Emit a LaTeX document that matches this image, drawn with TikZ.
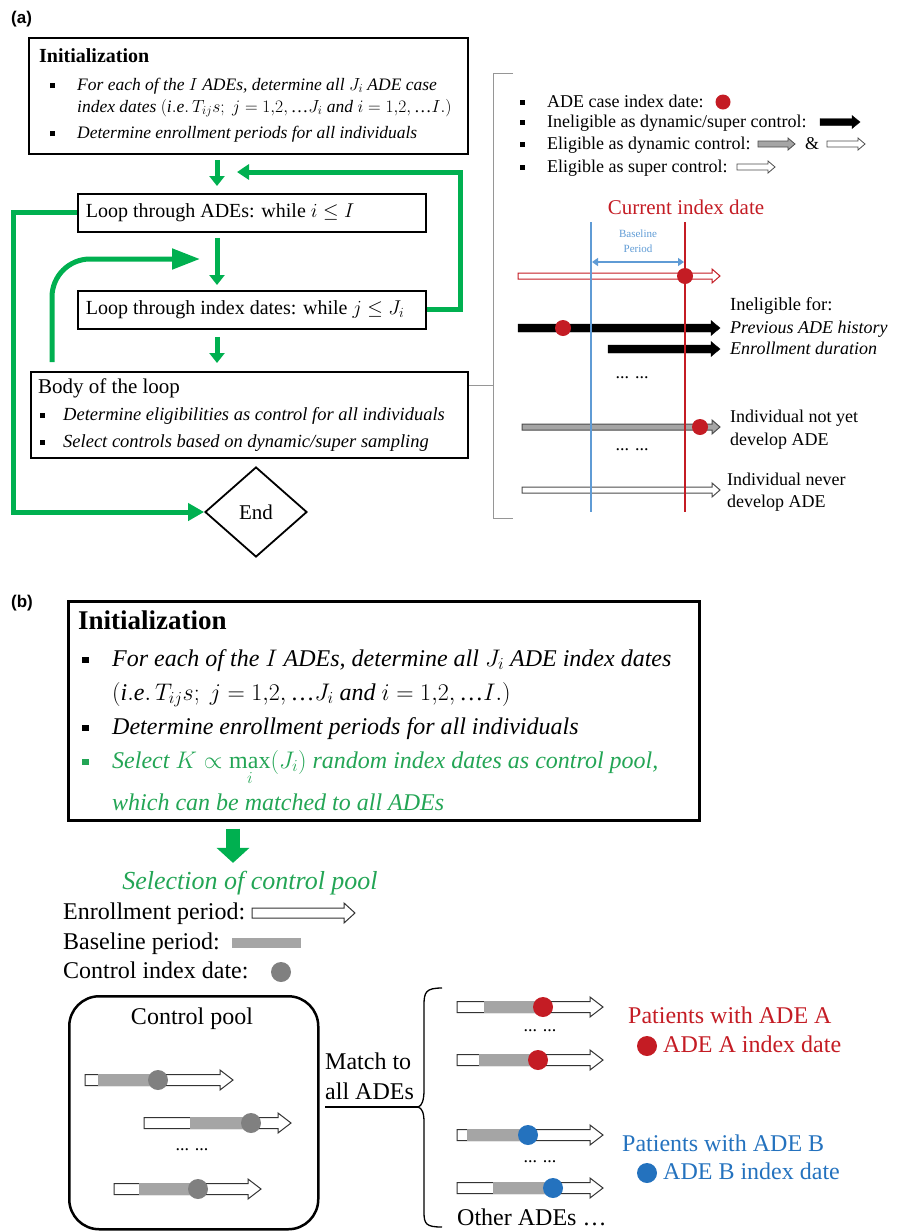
\RequirePackage{fix-cm}
\documentclass[tikz,border=0pt]{standalone}
\usepackage{amsmath,amssymb}
\usepackage{fontspec}
\setmainfont{Liberation Serif}
\newfontfamily\panelfont{Liberation Sans}
\usepackage{tikz}
\usetikzlibrary{shapes.geometric, arrows.meta, positioning, calc}
\definecolor{loopgreen}{RGB}{0,176,80}
\definecolor{poolgreen}{RGB}{35,165,85}
\definecolor{adered}{RGB}{196,28,36}
\definecolor{adeblue}{RGB}{36,114,190}
\definecolor{baseblue}{RGB}{95,155,213}
\definecolor{bargray}{RGB}{165,165,165}
\definecolor{dotgray}{RGB}{128,128,128}
\definecolor{bracketgray}{RGB}{150,150,150}

% square bullet
\newcommand{\sqb}[1]{\makebox[#1][l]{\rule[0.12em]{0.28em}{0.28em}}}
% tight ellipsis
\newcommand{\tdots}{\text{\upshape\ldots}}
% block arrow: [style]{x start}{x end}{y}{half shaft}{half head}{head length}
\newcommand{\blockarrow}[7][]{%
  \draw[#1] (#2,#4-#5) -- (#3-#7,#4-#5) -- (#3-#7,#4-#6) -- (#3,#4)
    -- (#3-#7,#4+#6) -- (#3-#7,#4+#5) -- (#2,#4+#5) -- cycle;}
% enrollment + baseline + index date
\newcommand{\poolrow}[6]{%
  \blockarrow[fill=white, draw=black!80, line width=1pt]{#1}{#2}{#3}{5.5}{10}{13}
  \fill[bargray] (#4,#3-6) rectangle (#5,#3+6);
  \fill[#6] (#5,#3) circle (10pt);}

\begin{document}
\begin{tikzpicture}[x=1pt, y=-1pt,
    flowbox/.style={draw, line width=1.8pt, inner sep=0pt, anchor=north west},
    loopbox/.style={flowbox, inner xsep=8pt, minimum height=38pt, font=\fontsize{20}{24}\selectfont},
    flowtxt/.style={anchor=mid west, inner sep=0pt, yshift=-3pt, font=\fontsize{18.5}{22}\selectfont\itshape},
    inittxt/.style={flowtxt, font=\fontsize{17.5}{21}\selectfont\itshape},
    legtxt/.style={anchor=mid west, inner sep=0pt, yshift=-3pt, font=\fontsize{18}{22}\selectfont},
    bigtxt/.style={anchor=mid west, inner sep=0pt, yshift=-4pt, font=\fontsize{24}{28}\selectfont},
    bigit/.style={bigtxt, font=\fontsize{24}{28}\selectfont\itshape},
    dots/.style={inner sep=0pt, font=\fontsize{18}{20}\selectfont},
    greenline/.style={loopgreen, line width=5pt},
    downarrow/.style={greenline, -{Triangle[width=15pt,length=10pt]}},
    panel/.style={anchor=mid west, inner sep=0pt, yshift=-2pt, font=\panelfont\bfseries\fontsize{17}{20}\selectfont}
  ]
  \useasboundingbox (0,0) rectangle (904,1232);

  % ---------------- (a) ----------------
  \node[panel] (labA) at (11,19) {(a)};

  % Boxes
  \node[flowbox, minimum width=439pt, minimum height=116pt] (initA) at (28,37) {};
  \node[loopbox] (loopA) at (77,193) {\makebox[332pt][l]{Loop through ADEs: while $i \leq I$}};
  \node[loopbox] (loopB) at (77,290) {\makebox[332pt][l]{Loop through index dates: while $j \leq J_i$}};
  \node[flowbox, minimum width=437pt, minimum height=86pt] (bodyA) at (30,371) {};
  \node[diamond, draw, line width=1.8pt, minimum width=102pt, minimum height=90pt,
    inner sep=0pt, font=\fontsize{21}{24}\selectfont] (endA) at (256,512) {End};

  % Box texts
  \node[anchor=mid west, inner sep=0pt, yshift=-3pt, font=\fontsize{20}{24}\selectfont\bfseries] (initAhead) at (39,57) {Initialization};
  \node[inittxt] (initAb1) at (50,85) {\sqb{27pt}For each of the $I$ ADEs, determine all $J_i$ ADE case};
  \node[inittxt] (initAb1b) at (77,107) {index dates $(\mathit{i.e.}\,T_{ij}s;\ j = 1{,}2,\tdots J_i$ and $i = 1{,}2,\tdots I.)$};
  \node[inittxt] (initAb2) at (50,133) {\sqb{27pt}Determine enrollment periods for all individuals};
  \node[anchor=mid west, inner sep=0pt, yshift=-3pt, font=\fontsize{21}{24}\selectfont] (bodyAhead) at (38,388) {Body of the loop};
  \node[flowtxt] (bodyAb1) at (40,415) {\sqb{23pt}Determine eligibilities as control for all individuals};
  \node[flowtxt] (bodyAb2) at (40,442) {\sqb{23pt}Select controls based on dynamic/super sampling};

  % Green flow
  \coordinate (flowx) at (217,0);
  \coordinate (nextade) at (237,172);
  \coordinate (nextidx) at (200,259);
  \draw[downarrow] ($(initA.south -| flowx)+(0,5)$) -- ($(loopA.north -| flowx)+(0,-7)$);
  \draw[downarrow] ($(loopA.south -| flowx)+(0,5)$) -- ($(loopB.north -| flowx)+(0,-5)$);
  \draw[downarrow] ($(loopB.south -| flowx)+(0,7)$) -- ($(bodyA.north -| flowx)+(0,-8)$);
  \draw[greenline, -{Triangle[width=15pt,length=12pt]}] (loopB.east) -| (460,172) -- (nextade);
  \draw[greenline, -{Triangle[width=17pt,length=16pt]}] (loopA.west) -- ++(-64,0) |- (endA.west);
  \draw[greenline, rounded corners=38pt, -{Triangle[width=20pt,length=28pt]}]
    ($(bodyA.north west)+(22,-9)$) |- (nextidx);

  % Bracket
  \coordinate (tickA) at (0,385);
  \draw[bracketgray, line width=1pt] (513,73) -- (493,73) -- (493,518) -- (513,518);
  \draw[bracketgray, line width=1pt] (bodyA.east |- tickA) -- (493,385);

  % Legend
  \node[legtxt] (leg1) at (520,102) {\sqb{27pt}ADE case index date:};
  \fill[adered] (723,102) circle (7.5pt);
  \node[legtxt] (leg2) at (520,122) {\sqb{27pt}Ineligible as dynamic/super control:};
  \blockarrow[fill=black]{820}{860}{122}{3.5}{6.5}{8}
  \node[legtxt] (leg3) at (520,144) {\sqb{27pt}Eligible as dynamic control:};
  \blockarrow[fill=bargray, draw=black!70, line width=0.8pt]{758}{795}{144}{3}{6}{7}
  \node[legtxt] (amp) at (805,144) {\&};
  \blockarrow[fill=white, draw=black!70, line width=0.8pt]{827}{865}{144}{3}{6}{7}
  \node[legtxt] (leg4) at (520,167) {\sqb{27pt}Eligible as super control:};
  \blockarrow[fill=white, draw=black!70, line width=0.8pt]{737}{775}{167}{3}{6}{7}

  % Timelines
  \node[inner sep=0pt, text=adered, font=\fontsize{21}{24}\selectfont] (curidx) at (686,207) {Current index date};
  \node[align=center, inner sep=0pt, text=baseblue, font=\fontsize{11}{15}\selectfont] (basetxt) at (638,241) {Baseline\\Period};
  \blockarrow[draw=adered, fill=white, line width=1pt]{518}{720}{276}{3}{7}{8}
  \blockarrow[fill=black]{518}{720}{328}{4}{7.5}{9}
  \blockarrow[fill=black]{608}{720}{349}{4}{7.5}{9}
  \blockarrow[fill=bargray, draw=black!70, line width=1pt]{522}{720}{427}{3}{7}{8}
  \blockarrow[fill=white, draw=black!70, line width=1pt]{522}{720}{490}{3}{7}{8}
  \draw[baseblue, line width=1.3pt] (591,222) -- (591,512);
  \draw[adered, line width=1.3pt] (685,222) -- (685,512);
  \draw[baseblue, line width=2.5pt, {Triangle[width=8pt,length=6pt]}-{Triangle[width=8pt,length=6pt]}] (592,262) -- (684,262);
  \fill[adered] (685,276) circle (8pt);
  \fill[adered] (563,328) circle (8pt);
  \fill[adered] (700,427) circle (8pt);
  \node[dots] (gapA1) at (632,378) {... ...};
  \node[dots] (gapA2) at (632,450) {... ...};
  \node[legtxt, font=\fontsize{18.5}{22}\selectfont] (inel) at (730,305) {Ineligible for:};
  \node[flowtxt, font=\fontsize{18}{22}\selectfont\itshape] (inelhist) at (730,328) {Previous ADE history};
  \node[flowtxt, font=\fontsize{18}{22}\selectfont\itshape] (ineldur) at (730,349) {Enrollment duration};
  \node[legtxt] (notyet) at (730,417) {Individual not yet};
  \node[legtxt] (notyetb) at (730,440) {develop ADE};
  \node[legtxt] (never) at (727,480) {Individual never};
  \node[legtxt] (neverb) at (727,502) {develop ADE};

  % ---------------- (b) ----------------
  \node[panel] (labB) at (11,603) {(b)};

  \node[flowbox, line width=2.5pt, minimum width=631pt, minimum height=219pt] (initB) at (67,600) {};
  \node[anchor=mid west, inner sep=0pt, yshift=-4pt, font=\fontsize{27}{30}\selectfont\bfseries] (initBhead) at (78,623) {Initialization};
  \node[bigit] (initBb1) at (82,660) {\sqb{30pt}For each of the $I$ ADEs, determine all $J_i$ ADE index dates};
  \node[bigit] (initBb1b) at (112,694) {$(\mathit{i.e.}\,T_{ij}s;\ j = 1{,}2,\tdots J_i$ and $i = 1{,}2,\tdots I.)$};
  \node[bigit] (initBb2) at (82,728) {\sqb{30pt}Determine enrollment periods for all individuals};
  \node[bigit, text=poolgreen] (initBb3) at (82,762) {\sqb{30pt}Select $K \propto \smash[b]{\max\limits_i}(J_i)$ random index dates as control pool,};
  \node[bigit, text=poolgreen] (initBb3b) at (112,804) {which can be matched to all ADEs};

  % Selection
  \coordinate (selx) at (233,0);
  \node[inner sep=0pt, text=poolgreen, font=\fontsize{26}{30}\selectfont\itshape] (selhead) at (250,883) {Selection of control pool};
  \draw[loopgreen, line width=14pt, -{Triangle[width=32pt,length=15pt]}]
    ($(initB.south -| selx)+(0,7)$) -- ($(selhead.north -| selx)+(0,-8)$);
  \node[bigtxt] (legenr) at (63,913) {Enrollment period:};
  \blockarrow[fill=white, draw=black!80, line width=1pt]{252}{355}{913}{5}{10}{11}
  \node[bigtxt] (legbase) at (63,943) {Baseline period:};
  \fill[bargray] (232,938) rectangle (301,948);
  \node[bigtxt] (legidx) at (63,972) {Control index date:};
  \fill[dotgray] (281,972) circle (10pt);

  % Control pool
  \node[draw, line width=2.5pt, rounded corners=30pt, minimum width=249pt, minimum height=233pt, anchor=north west] (pool) at (68,995) {};
  \node[inner sep=0pt, font=\fontsize{24}{28}\selectfont] (pooltitle) at (192,1019) {Control pool};
  \poolrow{85}{233}{1080}{98}{158}{dotgray}
  \poolrow{144}{291}{1123}{190}{251}{dotgray}
  \node[dots] (gapP) at (192,1150) {... ...};
  \poolrow{114}{261}{1189}{139}{198}{dotgray}

  % Matching
  \node[anchor=west, align=left, inner sep=0pt, font=\fontsize{24}{30}\selectfont] (match) at (325,1076) {Match to\\all ADEs};
  \coordinate (bracetip) at (418,1107);
  \draw[line width=1.3pt] (442,988) .. controls (426,988) and (424,992) .. (424,1005) -- (424,1090)
    .. controls (424,1100) and (422,1106) .. (bracetip)
    .. controls (422,1108) and (424,1113) .. (424,1122) -- (424,1212)
    .. controls (424,1224) and (426,1227) .. (442,1227);
  \draw[line width=1.3pt] (match.south west |- bracetip) -- (bracetip);

  % Patients
  \poolrow{457}{603}{1007}{484}{543}{adered}
  \node[dots] (gapA) at (540,1031) {... ...};
  \poolrow{457}{603}{1060}{479}{538}{adered}
  \poolrow{457}{603}{1135}{467}{528}{adeblue}
  \node[dots] (gapB) at (540,1162) {... ...};
  \poolrow{457}{603}{1188}{493}{553}{adeblue}
  \node[bigtxt, text=adered] (patA) at (628,1017) {Patients with ADE A};
  \fill[adered] (647,1046) circle (10pt);
  \node[bigtxt, text=adered] (idxA) at (663,1046) {ADE A index date};
  \node[bigtxt, text=adeblue] (patB) at (622,1145) {Patients with ADE B};
  \fill[adeblue] (647,1173) circle (10pt);
  \node[bigtxt, text=adeblue] (idxB) at (663,1173) {ADE B index date};
  \node[bigtxt, yshift=2pt] (others) at (457,1221) {Other ADEs \ldots};
\end{tikzpicture}
\end{document}
